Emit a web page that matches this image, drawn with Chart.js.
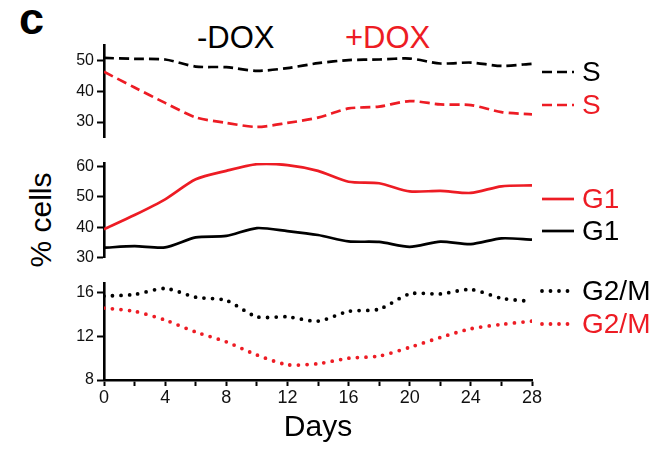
<!DOCTYPE html>
<html>
<head>
<meta charset="utf-8">
<script src="https://cdn.jsdelivr.net/npm/chart.js@4.4.0/dist/chart.umd.min.js"></script>
<style>
    body { margin: 0; background: #fff; width: 659px; height: 449px; position: relative; overflow: hidden; font-family: "Liberation Sans", Arial, sans-serif; }
    canvas { position: absolute; left: 0; }
    .lbl { position: absolute; white-space: nowrap; line-height: 1; }
</style>
</head>
<body>
<div class="lbl" style="left:19px; top:-4px; font-size:45px; font-weight:bold;">c</div>
<div class="lbl" style="left:197px; top:22px; font-size:31px; color:#000;">-DOX</div>
<div class="lbl" style="left:345px; top:22px; font-size:31px; color:#ed1c24;">+DOX</div>
<div class="lbl" style="left:41px; top:220px; font-size:30px; transform: translate(-50%, -50%) rotate(-90deg);">% cells</div>

<div style="position:absolute; left:0; top:0; width:659px; height:150px;"><canvas id="panelS"></canvas></div>
<div style="position:absolute; left:0; top:150px; width:659px; height:120px;"><canvas id="panelG1"></canvas></div>
<div style="position:absolute; left:0; top:270px; width:659px; height:179px;"><canvas id="panelG2M"></canvas></div>

<script>
// Data (days 0..28, every 2 days)
const days = [0, 2, 4, 6, 8, 10, 12, 14, 16, 18, 20, 22, 24, 26, 28];

const sMinus   = [50.8, 50.5, 50.3, 48.0, 47.8, 46.6, 47.5, 49.1, 50.1, 50.3, 50.6, 49.0, 49.3, 48.2, 48.9];
const sPlus    = [46.3, 41.2, 36.2, 31.5, 29.7, 28.4, 29.7, 31.4, 34.4, 35.0, 36.8, 35.7, 35.5, 33.2, 32.5];

const g1Plus   = [39.3, 44.0, 49.2, 55.8, 58.6, 60.8, 60.5, 58.6, 55.0, 54.5, 51.8, 52.0, 51.3, 53.5, 53.8];
const g1Minus  = [33.2, 33.7, 33.3, 36.6, 37.1, 39.7, 38.7, 37.4, 35.3, 35.1, 33.5, 35.2, 34.4, 36.3, 35.9];

const g2mMinus = [15.7, 15.85, 16.4, 15.6, 15.3, 13.8, 13.8, 13.4, 14.3, 14.5, 15.9, 15.9, 16.3, 15.5, 15.2];
const g2mPlus  = [14.6, 14.3, 13.5, 12.4, 11.5, 10.3, 9.4, 9.5, 10.0, 10.2, 11.0, 11.9, 12.7, 13.1, 13.4];

// Tick labels
const sTicks = [30, 40, 50];
const g1Ticks = [30, 40, 50, 60];
const g2mTicks = [8, 12, 16];
const dayTicks = [0, 2, 4, 6, 8, 10, 12, 14, 16, 18, 20, 22, 24, 26, 28];
const dayTickLabels = ['0', '4', '8', '12', '16', '20', '24', '28'];

const RED = '#ed1c24';
const BLACK = '#000';
const FONT = '"Liberation Sans", Arial, sans-serif';

function pts(vals) {
    return days.map((d, i) => ({ x: d, y: vals[i] }));
}

function series(label, vals, color, style) {
    const ds = {
        label: label,
        data: pts(vals),
        borderColor: color,
        backgroundColor: color,
        borderWidth: 2.7,
        pointRadius: 0,
        tension: 0.25,
        fill: false
    };
    if (style === 'dash') {
        ds.borderDash = [10, 5];
    } else if (style === 'dot') {
        ds.borderDash = [0, 8.5];
        ds.borderCapStyle = 'round';
        ds.borderWidth = 3.8;
    }
    return ds;
}

// legend drawn at the right of each panel, using each dataset's own style
const sideLegend = {
    id: 'sideLegend',
    afterDraw(chart, args, opts) {
        const ctx = chart.ctx;
        chart.data.datasets.forEach((ds, i) => {
            const y = opts.ys[i];
            ctx.save();
            ctx.strokeStyle = ds.borderColor;
            ctx.lineWidth = ds.borderWidth;
            ctx.setLineDash(ds.borderDash || []);
            ctx.lineCap = ds.borderCapStyle || 'butt';
            ctx.beginPath();
            ctx.moveTo(542, y);
            ctx.lineTo(574, y);
            ctx.stroke();
            ctx.setLineDash([]);
            ctx.fillStyle = ds.borderColor;
            ctx.font = '28px ' + FONT;
            ctx.textBaseline = 'middle';
            ctx.textAlign = 'left';
            ctx.fillText(ds.label, 582, y + 1);
            ctx.restore();
        });
    }
};

function makePanel(id, datasets, yMin, yMax, yTicks, pad, legendYs, showX) {
    const ctx = document.getElementById(id).getContext('2d');
    return new Chart(ctx, {
        type: 'line',
        data: { datasets: datasets },
        plugins: [sideLegend],
        options: {
            responsive: true,
            maintainAspectRatio: false,
            animation: false,
            layout: { padding: { top: pad[0], bottom: pad[1], left: 0, right: 127 } },
            scales: {
                x: {
                    type: 'linear',
                    min: 0,
                    max: 28,
                    display: showX,
                    afterBuildTicks: s => { s.ticks = dayTicks.map(v => ({ value: v })); },
                    afterFit: s => { if (showX) s.height = 69; },
                    border: { display: true, color: BLACK, width: 2.6 },
                    grid: { display: true, drawOnChartArea: false, drawTicks: true, tickLength: 6, tickColor: BLACK, tickWidth: 2 },
                    ticks: {
                        autoSkip: false,
                        maxRotation: 0,
                        color: '#111',
                        padding: 1,
                        font: { family: FONT, size: 18 },
                        callback: v => dayTickLabels.includes(String(v)) ? String(v) : ''
                    },
                    title: {
                        display: showX,
                        text: 'Days',
                        color: BLACK,
                        font: { family: FONT, size: 30 },
                        padding: { top: 0, bottom: 3 }
                    }
                },
                y: {
                    min: yMin,
                    max: yMax,
                    afterBuildTicks: s => { s.ticks = yTicks.map(v => ({ value: v })); },
                    afterFit: s => { s.width = 104; },
                    border: { display: true, color: BLACK, width: 2.6 },
                    grid: { display: true, drawOnChartArea: false, drawTicks: true, tickLength: 7, tickColor: BLACK, tickWidth: 2 },
                    ticks: {
                        color: '#111',
                        padding: 3,
                        font: { family: FONT, size: 16 }
                    }
                }
            },
            plugins: {
                legend: { display: false },
                tooltip: { enabled: false },
                sideLegend: { ys: legendYs }
            }
        }
    });
}

makePanel('panelS', [
    series('S', sMinus, BLACK, 'dash'),
    series('S', sPlus, RED, 'dash')
], 25, 55, sTicks, [45, 7], [72, 105], false);

makePanel('panelG1', [
    series('G1', g1Plus, RED, 'solid'),
    series('G1', g1Minus, BLACK, 'solid')
], 30, 61.2, g1Ticks, [13, 8], [49, 81], false);

makePanel('panelG2M', [
    series('G2/M', g2mMinus, BLACK, 'dot'),
    series('G2/M', g2mPlus, RED, 'dot')
], 8, 16.9, g2mTicks, [13, 0], [21, 54], true);
</script>
</body>
</html>
